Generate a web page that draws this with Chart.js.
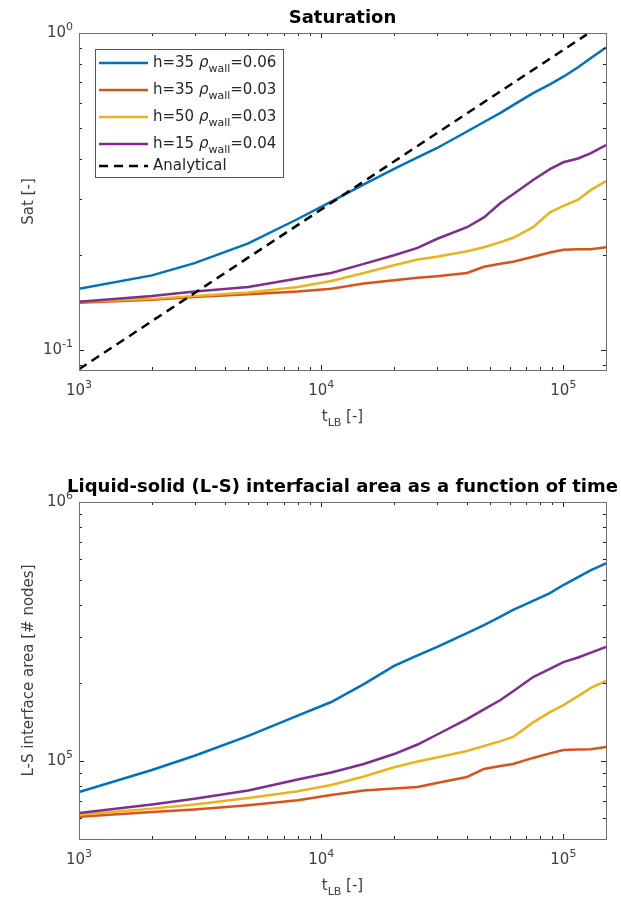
<!DOCTYPE html>
<html>
<head>
<meta charset="utf-8">
<script src="https://cdn.jsdelivr.net/npm/chart.js@4.4.1/dist/chart.umd.min.js"></script>
<style>
  body { margin: 0; background: #fff; }
  canvas { display: block; }
</style>
</head>
<body>
<canvas id="satChart" width="621" height="450"></canvas>
<canvas id="areaChart" width="621" height="451"></canvas>
<script>
// time steps (t_LB)
const tLB = [1000, 2000, 3000, 5000, 8000, 11000, 15000, 20000, 25000, 30000, 40000, 47000, 55000, 62000, 75000, 88000, 100000, 115000, 130000, 150000];

// saturation [-]
const satH35w06 = [0.156, 0.172, 0.188, 0.217, 0.259, 0.294, 0.333, 0.373, 0.405, 0.433, 0.489, 0.524, 0.560, 0.592, 0.646, 0.689, 0.728, 0.780, 0.834, 0.900];
const satH35w03 = [0.141, 0.144, 0.147, 0.150, 0.153, 0.156, 0.162, 0.166, 0.169, 0.171, 0.175, 0.183, 0.187, 0.190, 0.197, 0.203, 0.207, 0.208, 0.208, 0.211];
const satH50w03 = [0.142, 0.145, 0.148, 0.152, 0.158, 0.165, 0.175, 0.185, 0.193, 0.197, 0.205, 0.211, 0.219, 0.226, 0.244, 0.272, 0.285, 0.298, 0.320, 0.341];
const satH15w04 = [0.142, 0.148, 0.153, 0.158, 0.168, 0.175, 0.187, 0.199, 0.210, 0.224, 0.244, 0.262, 0.291, 0.310, 0.344, 0.372, 0.391, 0.402, 0.418, 0.443];

// analytical solution (straight line in log-log)
const analyticalT = [1000, 125000];
const analyticalSat = [0.087, 0.99];

// liquid-solid interface area [# nodes]
const areaH35w06 = [75900, 92300, 104800, 125000, 149700, 169000, 198000, 233000, 256000, 275000, 312000, 335000, 361000, 383000, 415000, 445000, 478000, 513000, 546000, 580000];
const areaH35w03 = [61000, 63500, 65000, 67500, 70500, 73900, 77000, 78300, 79400, 82200, 86800, 93200, 95700, 97400, 102800, 107000, 110300, 110700, 111100, 113200];
const areaH50w03 = [62000, 65500, 68000, 72000, 76400, 80800, 87200, 94600, 99600, 103200, 109300, 114300, 119400, 123900, 141000, 154500, 164400, 178000, 191500, 203800];
const areaH15w04 = [63000, 68000, 71500, 77000, 84800, 90300, 97400, 106400, 115800, 126300, 145100, 158300, 172000, 186000, 211000, 227000, 241000, 251000, 262000, 275500];

// legend parts
const seriesH = ['35', '35', '50', '15'];
const seriesRho = ['0.06', '0.03', '0.03', '0.04'];

const colors = ['#0072BD', '#D95319', '#EDB120', '#7E2F8E'];
const FONT = '"DejaVu Sans", sans-serif';
Chart.defaults.font.family = FONT;

function isDecade(v) {
    const e = Math.log10(v);
    return Math.abs(e - Math.round(e)) < 1e-9;
}

// 1..9 x 10^n ticks between min and max
function logTicks(scale) {
    const out = [];
    for (let e = Math.floor(Math.log10(scale.min)); e <= Math.ceil(Math.log10(scale.max)); e++) {
        for (let k = 1; k <= 9; k++) {
            const v = Number((k * Math.pow(10, e)).toPrecision(6));
            if (v >= scale.min * 0.999999 && v <= scale.max * 1.000001) out.push({value: v});
        }
    }
    scale.ticks = out;
}

function pts(xs, ys) {
    return xs.map((x, i) => ({x: x, y: ys[i]}));
}

// text made of parts: normal / italic / subscript / superscript
function partFont(p, size) {
    return (p.it ? 'italic ' : '') + (p.sub || p.sup ? Math.round(size * 0.72) : size) + 'px ' + FONT;
}
function richWidth(ctx, parts, size) {
    let w = 0;
    parts.forEach(p => { ctx.font = partFont(p, size); w += ctx.measureText(p.t).width; });
    return w;
}
function drawRich(ctx, parts, x, y, size, align) {
    const w = richWidth(ctx, parts, size);
    if (align === 'center') x -= w / 2;
    if (align === 'right') x -= w;
    ctx.textAlign = 'left';
    ctx.textBaseline = 'middle';
    parts.forEach(p => {
        ctx.font = partFont(p, size);
        const dy = p.sub ? size * 0.38 : (p.sup ? -size * 0.42 : 0);
        ctx.fillText(p.t, x, y + dy);
        x += ctx.measureText(p.t).width;
    });
}
function decadeParts(v) {
    return [{t: '10'}, {t: String(Math.round(Math.log10(v))), sup: true}];
}

// MATLAB-like axes box, inward ticks, tick labels, title, x label and legend
const matlabLook = {
    id: 'matlabLook',
    afterDraw(chart, args, opts) {
        const {ctx, chartArea: a, scales} = chart;
        ctx.save();
        ctx.strokeStyle = '#262626';
        ctx.lineWidth = 1;
        ctx.beginPath();
        scales.x.ticks.forEach(t => {
            const px = Math.round(scales.x.getPixelForValue(t.value)) + 0.5;
            const len = isDecade(t.value) ? 5 : 3;
            ctx.moveTo(px, a.bottom); ctx.lineTo(px, a.bottom - len);
            ctx.moveTo(px, a.top); ctx.lineTo(px, a.top + len);
        });
        scales.y.ticks.forEach(t => {
            const py = Math.round(scales.y.getPixelForValue(t.value)) + 0.5;
            const len = isDecade(t.value) ? 5 : 3;
            ctx.moveTo(a.left, py); ctx.lineTo(a.left + len, py);
            ctx.moveTo(a.right, py); ctx.lineTo(a.right - len, py);
        });
        ctx.stroke();
        ctx.strokeStyle = '#6e6e6e';
        ctx.strokeRect(Math.round(a.left) + 0.5, Math.round(a.top) + 0.5, Math.round(a.width), Math.round(a.height));

        // decade tick labels with superscript exponent
        ctx.fillStyle = '#404040';
        scales.x.ticks.filter(t => isDecade(t.value)).forEach(t => {
            drawRich(ctx, decadeParts(t.value), scales.x.getPixelForValue(t.value), a.bottom + 21, 15, 'center');
        });
        scales.y.ticks.filter(t => isDecade(t.value)).forEach(t => {
            drawRich(ctx, decadeParts(t.value), a.left - 6, scales.y.getPixelForValue(t.value), 15, 'right');
        });

        // title
        ctx.fillStyle = '#000';
        ctx.font = 'bold 18px ' + FONT;
        ctx.textAlign = 'center';
        ctx.textBaseline = 'middle';
        ctx.fillText(opts.title, (a.left + a.right) / 2, a.top - 15);

        // x label t_LB [-]
        ctx.fillStyle = '#404040';
        drawRich(ctx, [{t: 't'}, {t: 'LB', sub: true}, {t: ' [-]'}], (a.left + a.right) / 2, a.bottom + opts.xLabelGap, 15, 'center');

        if (opts.legend) {
            const bx = a.left + 16, by = a.top + 16, bw = 188, bh = 128;
            ctx.fillStyle = '#fff';
            ctx.fillRect(bx, by, bw, bh);
            ctx.strokeStyle = '#555';
            ctx.lineWidth = 1;
            ctx.strokeRect(bx + 0.5, by + 0.5, bw, bh);
            const rows = [14, 41, 68, 95, 117];
            chart.data.datasets.forEach((ds, i) => {
                const y = by + rows[i];
                ctx.beginPath();
                ctx.strokeStyle = ds.borderColor;
                ctx.lineWidth = ds.borderWidth;
                ctx.setLineDash(ds.borderDash || []);
                ctx.moveTo(bx + 4, y);
                ctx.lineTo(bx + 53, y);
                ctx.stroke();
                ctx.setLineDash([]);
                ctx.fillStyle = '#262626';
                const parts = i < seriesH.length
                    ? [{t: 'h=' + seriesH[i] + ' '}, {t: 'ρ', it: true}, {t: 'wall', sub: true}, {t: '=' + seriesRho[i]}]
                    : [{t: ds.label}];
                drawRich(ctx, parts, bx + 58, y, 15, 'left');
            });
        }
        ctx.restore();
    }
};

function makeChart(id, datasets, yMin, yMax, yTitle, plug, padTop, xHeight) {
    return new Chart(document.getElementById(id), {
        type: 'line',
        data: {datasets: datasets},
        options: {
            responsive: false,
            animation: false,
            layout: {padding: {top: padTop, right: 15, left: 0, bottom: 0}},
            elements: {point: {radius: 0}, line: {tension: 0}},
            plugins: {legend: {display: false}, tooltip: {enabled: false}, matlabLook: plug},
            scales: {
                x: {
                    type: 'logarithmic', min: 1000, max: 150000,
                    afterBuildTicks: logTicks,
                    afterFit: s => { s.height = xHeight; },
                    grid: {display: false, drawTicks: false},
                    border: {display: false},
                    ticks: {autoSkip: false, maxRotation: 0, callback: () => ''}
                },
                y: {
                    type: 'logarithmic', min: yMin, max: yMax,
                    afterBuildTicks: logTicks,
                    afterFit: s => { s.width = 79; },
                    grid: {display: false, drawTicks: false},
                    border: {display: false},
                    title: {display: true, text: yTitle, color: '#404040', font: {size: 15}, padding: {top: 20, bottom: 0}},
                    ticks: {autoSkip: false, callback: () => ''}
                }
            }
        },
        plugins: [matlabLook]
    });
}

function lineSet(label, ys, i, order) {
    return {label: label, data: pts(tLB, ys), borderColor: colors[i], borderWidth: 2.5, order: order};
}

makeChart('satChart', [
    lineSet('h=35 ρwall=0.06', satH35w06, 0, 5),
    lineSet('h=35 ρwall=0.03', satH35w03, 1, 4),
    lineSet('h=50 ρwall=0.03', satH50w03, 2, 3),
    lineSet('h=15 ρwall=0.04', satH15w04, 3, 2),
    {label: 'Analytical', data: pts(analyticalT, analyticalSat), borderColor: '#000', borderWidth: 2.5, borderDash: [9, 6], order: 1}
], 0.0865, 1, 'Sat [-]', {title: 'Saturation', legend: true, xLabelGap: 47}, 33, 80);

makeChart('areaChart', [
    lineSet('h=35 ρwall=0.06', areaH35w06, 0, 5),
    lineSet('h=35 ρwall=0.03', areaH35w03, 1, 4),
    lineSet('h=50 ρwall=0.03', areaH50w03, 2, 3),
    lineSet('h=15 ρwall=0.04', areaH15w04, 3, 2)
], 50000, 1000000, 'L-S interface area [# nodes]', {title: 'Liquid-solid (L-S) interfacial area as a function of time', legend: false, xLabelGap: 47}, 52, 62);
</script>
</body>
</html>
